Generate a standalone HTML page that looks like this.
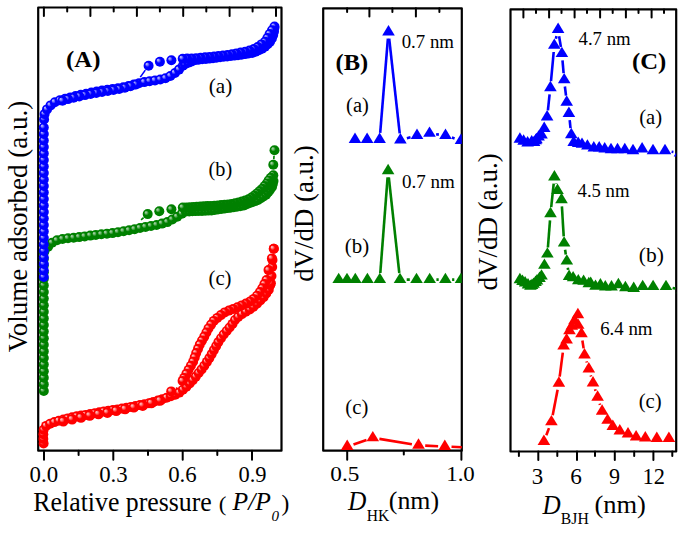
<!DOCTYPE html><html><head><meta charset="utf-8"><style>html,body{margin:0;padding:0;background:#fff;}svg{display:block;}</style></head><body><svg width="685" height="544" viewBox="0 0 685 544"><defs><radialGradient id="gB" cx="0.5" cy="0.5" r="0.5" fx="0.28" fy="0.3"><stop offset="0" stop-color="#a8a8ff"/><stop offset="0.12" stop-color="#a8a8ff"/><stop offset="0.48" stop-color="#0000ff"/><stop offset="1" stop-color="#0000ff"/></radialGradient><radialGradient id="gG" cx="0.5" cy="0.5" r="0.5" fx="0.28" fy="0.3"><stop offset="0" stop-color="#9ccc9c"/><stop offset="0.12" stop-color="#9ccc9c"/><stop offset="0.48" stop-color="#008000"/><stop offset="1" stop-color="#008000"/></radialGradient><radialGradient id="gR" cx="0.5" cy="0.5" r="0.5" fx="0.28" fy="0.3"><stop offset="0" stop-color="#ffb0b0"/><stop offset="0.12" stop-color="#ffb0b0"/><stop offset="0.48" stop-color="#ff0000"/><stop offset="1" stop-color="#ff0000"/></radialGradient><clipPath id="clipA"><rect x="38.2" y="7.5" width="243.3" height="443.2"/></clipPath><clipPath id="clipB"><rect x="323.2" y="8.3" width="138.60000000000002" height="442.4"/></clipPath><clipPath id="clipC"><rect x="510.5" y="9.4" width="165.70000000000005" height="442.1"/></clipPath></defs><rect width="685" height="544" fill="#fff"/><rect x="38.2" y="7.5" width="243.3" height="443.2" fill="none" stroke="#000" stroke-width="2.2" stroke-linejoin="round"/><line x1="43.9" y1="7.5" x2="43.9" y2="16.1" stroke="#000" stroke-width="2" stroke-linecap="round"/><line x1="90.4" y1="7.5" x2="90.4" y2="16.1" stroke="#000" stroke-width="2" stroke-linecap="round"/><line x1="136.9" y1="7.5" x2="136.9" y2="16.1" stroke="#000" stroke-width="2" stroke-linecap="round"/><line x1="183.2" y1="7.5" x2="183.2" y2="16.1" stroke="#000" stroke-width="2" stroke-linecap="round"/><line x1="229.6" y1="7.5" x2="229.6" y2="16.1" stroke="#000" stroke-width="2" stroke-linecap="round"/><line x1="276.0" y1="7.5" x2="276.0" y2="16.1" stroke="#000" stroke-width="2" stroke-linecap="round"/><line x1="67.2" y1="7.5" x2="67.2" y2="11.6" stroke="#000" stroke-width="2" stroke-linecap="round"/><line x1="113.7" y1="7.5" x2="113.7" y2="11.6" stroke="#000" stroke-width="2" stroke-linecap="round"/><line x1="159.9" y1="7.5" x2="159.9" y2="11.6" stroke="#000" stroke-width="2" stroke-linecap="round"/><line x1="206.3" y1="7.5" x2="206.3" y2="11.6" stroke="#000" stroke-width="2" stroke-linecap="round"/><line x1="252.6" y1="7.5" x2="252.6" y2="11.6" stroke="#000" stroke-width="2" stroke-linecap="round"/><line x1="44.0" y1="450.7" x2="44.0" y2="459.7" stroke="#000" stroke-width="2" stroke-linecap="round"/><line x1="113.3" y1="450.7" x2="113.3" y2="459.7" stroke="#000" stroke-width="2" stroke-linecap="round"/><line x1="182.7" y1="450.7" x2="182.7" y2="459.7" stroke="#000" stroke-width="2" stroke-linecap="round"/><line x1="252.0" y1="450.7" x2="252.0" y2="459.7" stroke="#000" stroke-width="2" stroke-linecap="round"/><line x1="78.6" y1="450.7" x2="78.6" y2="455.1" stroke="#000" stroke-width="2" stroke-linecap="round"/><line x1="148.0" y1="450.7" x2="148.0" y2="455.1" stroke="#000" stroke-width="2" stroke-linecap="round"/><line x1="217.3" y1="450.7" x2="217.3" y2="455.1" stroke="#000" stroke-width="2" stroke-linecap="round"/><g clip-path="url(#clipA)"><circle cx="43.8" cy="391.0" r="5.0" fill="url(#gG)"/><circle cx="43.8" cy="384.4" r="5.0" fill="url(#gG)"/><circle cx="43.8" cy="377.8" r="5.0" fill="url(#gG)"/><circle cx="43.8" cy="371.2" r="5.0" fill="url(#gG)"/><circle cx="43.8" cy="364.6" r="5.0" fill="url(#gG)"/><circle cx="43.8" cy="358.0" r="5.0" fill="url(#gG)"/><circle cx="43.8" cy="351.4" r="5.0" fill="url(#gG)"/><circle cx="43.8" cy="344.8" r="5.0" fill="url(#gG)"/><circle cx="43.8" cy="338.2" r="5.0" fill="url(#gG)"/><circle cx="43.8" cy="331.6" r="5.0" fill="url(#gG)"/><circle cx="43.8" cy="325.0" r="5.0" fill="url(#gG)"/><circle cx="43.8" cy="318.4" r="5.0" fill="url(#gG)"/><circle cx="43.8" cy="311.8" r="5.0" fill="url(#gG)"/><circle cx="43.8" cy="305.2" r="5.0" fill="url(#gG)"/><circle cx="43.8" cy="298.6" r="5.0" fill="url(#gG)"/><circle cx="43.8" cy="292.0" r="5.0" fill="url(#gG)"/><circle cx="43.8" cy="285.4" r="5.0" fill="url(#gG)"/><circle cx="43.8" cy="278.8" r="5.0" fill="url(#gG)"/><circle cx="43.8" cy="272.2" r="5.0" fill="url(#gG)"/><circle cx="43.8" cy="265.6" r="5.0" fill="url(#gG)"/><circle cx="43.8" cy="259.0" r="5.0" fill="url(#gG)"/><circle cx="43.8" cy="252.4" r="5.0" fill="url(#gG)"/><circle cx="44.5" cy="251.0" r="5.0" fill="url(#gG)"/><circle cx="48.1" cy="246.7" r="5.0" fill="url(#gG)"/><circle cx="52.1" cy="242.8" r="5.0" fill="url(#gG)"/><circle cx="57.0" cy="240.3" r="5.0" fill="url(#gG)"/><circle cx="62.5" cy="239.0" r="5.0" fill="url(#gG)"/><circle cx="68.0" cy="238.3" r="5.0" fill="url(#gG)"/><circle cx="73.6" cy="237.8" r="5.0" fill="url(#gG)"/><circle cx="79.2" cy="237.1" r="5.0" fill="url(#gG)"/><circle cx="84.7" cy="236.4" r="5.0" fill="url(#gG)"/><circle cx="90.3" cy="235.6" r="5.0" fill="url(#gG)"/><circle cx="95.8" cy="234.9" r="5.0" fill="url(#gG)"/><circle cx="101.4" cy="234.3" r="5.0" fill="url(#gG)"/><circle cx="106.9" cy="233.7" r="5.0" fill="url(#gG)"/><circle cx="112.5" cy="233.1" r="5.0" fill="url(#gG)"/><circle cx="118.0" cy="232.2" r="5.0" fill="url(#gG)"/><circle cx="123.6" cy="231.3" r="5.0" fill="url(#gG)"/><circle cx="129.1" cy="230.3" r="5.0" fill="url(#gG)"/><circle cx="134.6" cy="229.2" r="5.0" fill="url(#gG)"/><circle cx="140.0" cy="228.0" r="5.0" fill="url(#gG)"/><circle cx="145.5" cy="226.9" r="5.0" fill="url(#gG)"/><circle cx="151.0" cy="226.0" r="5.0" fill="url(#gG)"/><circle cx="156.6" cy="225.0" r="5.0" fill="url(#gG)"/><circle cx="162.0" cy="223.6" r="5.0" fill="url(#gG)"/><circle cx="167.4" cy="222.1" r="5.0" fill="url(#gG)"/><circle cx="172.3" cy="219.5" r="5.0" fill="url(#gG)"/><circle cx="177.2" cy="216.8" r="5.0" fill="url(#gG)"/><circle cx="181.9" cy="213.8" r="5.0" fill="url(#gG)"/><circle cx="186.0" cy="211.0" r="5.0" fill="url(#gG)"/><circle cx="186.0" cy="211.5" r="5.0" fill="url(#gG)"/><circle cx="189.2" cy="211.4" r="5.0" fill="url(#gG)"/><circle cx="192.4" cy="211.2" r="5.0" fill="url(#gG)"/><circle cx="195.6" cy="211.1" r="5.0" fill="url(#gG)"/><circle cx="198.8" cy="211.0" r="5.0" fill="url(#gG)"/><circle cx="202.0" cy="210.9" r="5.0" fill="url(#gG)"/><circle cx="205.2" cy="210.7" r="5.0" fill="url(#gG)"/><circle cx="208.4" cy="210.6" r="5.0" fill="url(#gG)"/><circle cx="211.6" cy="210.4" r="5.0" fill="url(#gG)"/><circle cx="214.7" cy="210.0" r="5.0" fill="url(#gG)"/><circle cx="217.9" cy="209.5" r="5.0" fill="url(#gG)"/><circle cx="221.1" cy="209.0" r="5.0" fill="url(#gG)"/><circle cx="224.2" cy="208.6" r="5.0" fill="url(#gG)"/><circle cx="227.4" cy="208.1" r="5.0" fill="url(#gG)"/><circle cx="230.6" cy="207.7" r="5.0" fill="url(#gG)"/><circle cx="233.7" cy="207.2" r="5.0" fill="url(#gG)"/><circle cx="236.9" cy="206.7" r="5.0" fill="url(#gG)"/><circle cx="240.1" cy="206.3" r="5.0" fill="url(#gG)"/><circle cx="243.2" cy="205.6" r="5.0" fill="url(#gG)"/><circle cx="246.2" cy="204.4" r="5.0" fill="url(#gG)"/><circle cx="249.2" cy="203.3" r="5.0" fill="url(#gG)"/><circle cx="252.2" cy="202.2" r="5.0" fill="url(#gG)"/><circle cx="255.2" cy="201.1" r="5.0" fill="url(#gG)"/><circle cx="258.1" cy="199.9" r="5.0" fill="url(#gG)"/><circle cx="260.8" cy="198.1" r="5.0" fill="url(#gG)"/><circle cx="263.5" cy="196.4" r="5.0" fill="url(#gG)"/><circle cx="266.1" cy="194.6" r="5.0" fill="url(#gG)"/><circle cx="268.2" cy="192.3" r="5.0" fill="url(#gG)"/><circle cx="270.1" cy="189.6" r="5.0" fill="url(#gG)"/><circle cx="272.0" cy="187.0" r="5.0" fill="url(#gG)"/><circle cx="272.8" cy="183.9" r="5.0" fill="url(#gG)"/><circle cx="273.5" cy="181.0" r="5.0" fill="url(#gG)"/><circle cx="273.3" cy="175.2" r="5.0" fill="url(#gG)"/><circle cx="270.8" cy="177.7" r="5.0" fill="url(#gG)"/><circle cx="268.7" cy="180.4" r="5.0" fill="url(#gG)"/><circle cx="266.9" cy="183.4" r="5.0" fill="url(#gG)"/><circle cx="264.6" cy="186.1" r="5.0" fill="url(#gG)"/><circle cx="262.3" cy="188.7" r="5.0" fill="url(#gG)"/><circle cx="259.7" cy="191.0" r="5.0" fill="url(#gG)"/><circle cx="257.1" cy="193.3" r="5.0" fill="url(#gG)"/><circle cx="254.4" cy="195.6" r="5.0" fill="url(#gG)"/><circle cx="251.5" cy="197.6" r="5.0" fill="url(#gG)"/><circle cx="248.5" cy="199.3" r="5.0" fill="url(#gG)"/><circle cx="245.2" cy="200.6" r="5.0" fill="url(#gG)"/><circle cx="241.9" cy="201.6" r="5.0" fill="url(#gG)"/><circle cx="238.5" cy="202.5" r="5.0" fill="url(#gG)"/><circle cx="235.1" cy="203.2" r="5.0" fill="url(#gG)"/><circle cx="231.7" cy="204.0" r="5.0" fill="url(#gG)"/><circle cx="228.2" cy="204.4" r="5.0" fill="url(#gG)"/><circle cx="224.7" cy="204.7" r="5.0" fill="url(#gG)"/><circle cx="221.2" cy="205.1" r="5.0" fill="url(#gG)"/><circle cx="217.8" cy="205.5" r="5.0" fill="url(#gG)"/><circle cx="214.3" cy="205.7" r="5.0" fill="url(#gG)"/><circle cx="210.8" cy="205.9" r="5.0" fill="url(#gG)"/><circle cx="207.3" cy="206.1" r="5.0" fill="url(#gG)"/><circle cx="203.8" cy="206.3" r="5.0" fill="url(#gG)"/><circle cx="200.3" cy="206.5" r="5.0" fill="url(#gG)"/><circle cx="196.8" cy="206.7" r="5.0" fill="url(#gG)"/><circle cx="193.3" cy="207.0" r="5.0" fill="url(#gG)"/><circle cx="189.8" cy="207.2" r="5.0" fill="url(#gG)"/><circle cx="186.3" cy="207.5" r="5.0" fill="url(#gG)"/><circle cx="182.8" cy="207.5" r="5.0" fill="url(#gG)"/><circle cx="274.5" cy="150.2" r="5.0" fill="url(#gG)"/><circle cx="273.3" cy="164.7" r="5.0" fill="url(#gG)"/><circle cx="171.4" cy="209.3" r="5.0" fill="url(#gG)"/><circle cx="159.3" cy="211.2" r="5.0" fill="url(#gG)"/><circle cx="147.7" cy="214.1" r="5.0" fill="url(#gG)"/><circle cx="43.8" cy="277.0" r="5.0" fill="url(#gB)"/><circle cx="43.8" cy="270.5" r="5.0" fill="url(#gB)"/><circle cx="43.8" cy="264.0" r="5.0" fill="url(#gB)"/><circle cx="43.8" cy="257.5" r="5.0" fill="url(#gB)"/><circle cx="43.8" cy="251.0" r="5.0" fill="url(#gB)"/><circle cx="43.8" cy="244.5" r="5.0" fill="url(#gB)"/><circle cx="43.8" cy="238.0" r="5.0" fill="url(#gB)"/><circle cx="43.8" cy="231.5" r="5.0" fill="url(#gB)"/><circle cx="43.8" cy="225.0" r="5.0" fill="url(#gB)"/><circle cx="43.8" cy="218.5" r="5.0" fill="url(#gB)"/><circle cx="43.8" cy="212.0" r="5.0" fill="url(#gB)"/><circle cx="43.8" cy="205.5" r="5.0" fill="url(#gB)"/><circle cx="43.8" cy="199.0" r="5.0" fill="url(#gB)"/><circle cx="43.8" cy="192.5" r="5.0" fill="url(#gB)"/><circle cx="43.8" cy="186.0" r="5.0" fill="url(#gB)"/><circle cx="43.8" cy="179.5" r="5.0" fill="url(#gB)"/><circle cx="43.8" cy="173.0" r="5.0" fill="url(#gB)"/><circle cx="43.8" cy="166.5" r="5.0" fill="url(#gB)"/><circle cx="43.8" cy="160.0" r="5.0" fill="url(#gB)"/><circle cx="43.8" cy="153.5" r="5.0" fill="url(#gB)"/><circle cx="43.8" cy="147.0" r="5.0" fill="url(#gB)"/><circle cx="43.8" cy="140.5" r="5.0" fill="url(#gB)"/><circle cx="43.8" cy="134.0" r="5.0" fill="url(#gB)"/><circle cx="43.8" cy="127.5" r="5.0" fill="url(#gB)"/><circle cx="44.1" cy="119.5" r="5.0" fill="url(#gB)"/><circle cx="44.6" cy="114.1" r="5.0" fill="url(#gB)"/><circle cx="47.0" cy="109.4" r="5.0" fill="url(#gB)"/><circle cx="50.6" cy="105.4" r="5.0" fill="url(#gB)"/><circle cx="54.9" cy="102.2" r="5.0" fill="url(#gB)"/><circle cx="59.9" cy="100.2" r="5.0" fill="url(#gB)"/><circle cx="65.1" cy="98.8" r="5.0" fill="url(#gB)"/><circle cx="70.3" cy="97.4" r="5.0" fill="url(#gB)"/><circle cx="75.6" cy="96.0" r="5.0" fill="url(#gB)"/><circle cx="80.8" cy="94.8" r="5.0" fill="url(#gB)"/><circle cx="86.1" cy="93.7" r="5.0" fill="url(#gB)"/><circle cx="91.4" cy="92.6" r="5.0" fill="url(#gB)"/><circle cx="96.7" cy="91.6" r="5.0" fill="url(#gB)"/><circle cx="102.0" cy="90.6" r="5.0" fill="url(#gB)"/><circle cx="107.3" cy="89.7" r="5.0" fill="url(#gB)"/><circle cx="112.7" cy="88.9" r="5.0" fill="url(#gB)"/><circle cx="118.0" cy="88.2" r="5.0" fill="url(#gB)"/><circle cx="123.3" cy="87.2" r="5.0" fill="url(#gB)"/><circle cx="128.6" cy="86.0" r="5.0" fill="url(#gB)"/><circle cx="133.8" cy="84.6" r="5.0" fill="url(#gB)"/><circle cx="139.0" cy="83.3" r="5.0" fill="url(#gB)"/><circle cx="144.3" cy="82.1" r="5.0" fill="url(#gB)"/><circle cx="149.6" cy="81.2" r="5.0" fill="url(#gB)"/><circle cx="155.0" cy="80.4" r="5.0" fill="url(#gB)"/><circle cx="160.3" cy="79.5" r="5.0" fill="url(#gB)"/><circle cx="165.5" cy="78.2" r="5.0" fill="url(#gB)"/><circle cx="170.4" cy="76.0" r="5.0" fill="url(#gB)"/><circle cx="175.0" cy="73.0" r="5.0" fill="url(#gB)"/><circle cx="179.0" cy="69.6" r="5.0" fill="url(#gB)"/><circle cx="182.9" cy="65.8" r="5.0" fill="url(#gB)"/><circle cx="185.0" cy="64.0" r="5.0" fill="url(#gB)"/><circle cx="185.0" cy="64.0" r="5.0" fill="url(#gB)"/><circle cx="188.4" cy="62.7" r="5.0" fill="url(#gB)"/><circle cx="191.7" cy="61.4" r="5.0" fill="url(#gB)"/><circle cx="195.1" cy="60.1" r="5.0" fill="url(#gB)"/><circle cx="198.6" cy="59.7" r="5.0" fill="url(#gB)"/><circle cx="202.2" cy="59.3" r="5.0" fill="url(#gB)"/><circle cx="205.8" cy="59.0" r="5.0" fill="url(#gB)"/><circle cx="209.4" cy="58.6" r="5.0" fill="url(#gB)"/><circle cx="213.0" cy="58.2" r="5.0" fill="url(#gB)"/><circle cx="216.5" cy="57.7" r="5.0" fill="url(#gB)"/><circle cx="220.1" cy="57.3" r="5.0" fill="url(#gB)"/><circle cx="223.7" cy="56.8" r="5.0" fill="url(#gB)"/><circle cx="227.2" cy="56.4" r="5.0" fill="url(#gB)"/><circle cx="230.8" cy="56.0" r="5.0" fill="url(#gB)"/><circle cx="234.4" cy="55.6" r="5.0" fill="url(#gB)"/><circle cx="238.0" cy="55.2" r="5.0" fill="url(#gB)"/><circle cx="241.5" cy="54.8" r="5.0" fill="url(#gB)"/><circle cx="245.1" cy="54.1" r="5.0" fill="url(#gB)"/><circle cx="248.6" cy="53.5" r="5.0" fill="url(#gB)"/><circle cx="252.2" cy="52.9" r="5.0" fill="url(#gB)"/><circle cx="255.6" cy="51.7" r="5.0" fill="url(#gB)"/><circle cx="258.9" cy="50.3" r="5.0" fill="url(#gB)"/><circle cx="262.1" cy="48.7" r="5.0" fill="url(#gB)"/><circle cx="265.0" cy="46.6" r="5.0" fill="url(#gB)"/><circle cx="267.7" cy="44.2" r="5.0" fill="url(#gB)"/><circle cx="270.1" cy="41.6" r="5.0" fill="url(#gB)"/><circle cx="271.9" cy="38.5" r="5.0" fill="url(#gB)"/><circle cx="273.2" cy="35.1" r="5.0" fill="url(#gB)"/><circle cx="274.0" cy="31.6" r="5.0" fill="url(#gB)"/><circle cx="274.4" cy="28.0" r="5.0" fill="url(#gB)"/><circle cx="274.5" cy="26.5" r="5.0" fill="url(#gB)"/><circle cx="272.0" cy="30.2" r="5.0" fill="url(#gB)"/><circle cx="269.6" cy="34.0" r="5.0" fill="url(#gB)"/><circle cx="267.4" cy="38.0" r="5.0" fill="url(#gB)"/><circle cx="265.0" cy="41.7" r="5.0" fill="url(#gB)"/><circle cx="261.4" cy="44.4" r="5.0" fill="url(#gB)"/><circle cx="257.7" cy="47.0" r="5.0" fill="url(#gB)"/><circle cx="253.8" cy="49.1" r="5.0" fill="url(#gB)"/><circle cx="249.5" cy="50.6" r="5.0" fill="url(#gB)"/><circle cx="245.2" cy="51.7" r="5.0" fill="url(#gB)"/><circle cx="240.7" cy="52.5" r="5.0" fill="url(#gB)"/><circle cx="236.3" cy="53.4" r="5.0" fill="url(#gB)"/><circle cx="231.9" cy="54.2" r="5.0" fill="url(#gB)"/><circle cx="227.5" cy="55.0" r="5.0" fill="url(#gB)"/><circle cx="223.0" cy="55.6" r="5.0" fill="url(#gB)"/><circle cx="218.5" cy="56.0" r="5.0" fill="url(#gB)"/><circle cx="214.1" cy="56.5" r="5.0" fill="url(#gB)"/><circle cx="209.6" cy="56.9" r="5.0" fill="url(#gB)"/><circle cx="205.1" cy="57.3" r="5.0" fill="url(#gB)"/><circle cx="200.6" cy="57.8" r="5.0" fill="url(#gB)"/><circle cx="196.1" cy="58.2" r="5.0" fill="url(#gB)"/><circle cx="191.6" cy="58.4" r="5.0" fill="url(#gB)"/><circle cx="187.1" cy="58.6" r="5.0" fill="url(#gB)"/><circle cx="182.7" cy="58.8" r="5.0" fill="url(#gB)"/><circle cx="171.4" cy="60.2" r="5.0" fill="url(#gB)"/><circle cx="159.9" cy="61.7" r="5.0" fill="url(#gB)"/><circle cx="148.6" cy="65.7" r="5.0" fill="url(#gB)"/><circle cx="136.0" cy="84.5" r="5.0" fill="url(#gB)"/><circle cx="130.5" cy="86.2" r="5.0" fill="url(#gB)"/><circle cx="124.9" cy="87.7" r="5.0" fill="url(#gB)"/><circle cx="119.2" cy="89.0" r="5.0" fill="url(#gB)"/><circle cx="113.5" cy="90.0" r="5.0" fill="url(#gB)"/><circle cx="107.8" cy="91.0" r="5.0" fill="url(#gB)"/><circle cx="102.0" cy="91.9" r="5.0" fill="url(#gB)"/><circle cx="96.3" cy="92.9" r="5.0" fill="url(#gB)"/><circle cx="90.6" cy="93.9" r="5.0" fill="url(#gB)"/><circle cx="85.0" cy="95.1" r="5.0" fill="url(#gB)"/><circle cx="79.3" cy="96.4" r="5.0" fill="url(#gB)"/><circle cx="73.6" cy="97.7" r="5.0" fill="url(#gB)"/><circle cx="68.0" cy="99.1" r="5.0" fill="url(#gB)"/><circle cx="62.5" cy="100.8" r="5.0" fill="url(#gB)"/><circle cx="43.6" cy="443.5" r="5.0" fill="url(#gR)"/><circle cx="43.3" cy="438.9" r="5.0" fill="url(#gR)"/><circle cx="43.3" cy="434.3" r="5.0" fill="url(#gR)"/><circle cx="43.6" cy="429.7" r="5.0" fill="url(#gR)"/><circle cx="46.1" cy="425.9" r="5.0" fill="url(#gR)"/><circle cx="50.1" cy="423.7" r="5.0" fill="url(#gR)"/><circle cx="54.4" cy="422.1" r="5.0" fill="url(#gR)"/><circle cx="58.8" cy="420.7" r="5.0" fill="url(#gR)"/><circle cx="63.3" cy="419.6" r="5.0" fill="url(#gR)"/><circle cx="67.7" cy="418.4" r="5.0" fill="url(#gR)"/><circle cx="72.2" cy="417.3" r="5.0" fill="url(#gR)"/><circle cx="76.7" cy="416.3" r="5.0" fill="url(#gR)"/><circle cx="81.2" cy="415.6" r="5.0" fill="url(#gR)"/><circle cx="85.7" cy="414.9" r="5.0" fill="url(#gR)"/><circle cx="90.2" cy="413.9" r="5.0" fill="url(#gR)"/><circle cx="94.8" cy="413.3" r="5.0" fill="url(#gR)"/><circle cx="99.3" cy="412.3" r="5.0" fill="url(#gR)"/><circle cx="103.8" cy="411.4" r="5.0" fill="url(#gR)"/><circle cx="108.3" cy="410.7" r="5.0" fill="url(#gR)"/><circle cx="112.9" cy="410.1" r="5.0" fill="url(#gR)"/><circle cx="117.4" cy="409.4" r="5.0" fill="url(#gR)"/><circle cx="122.0" cy="408.6" r="5.0" fill="url(#gR)"/><circle cx="126.5" cy="407.7" r="5.0" fill="url(#gR)"/><circle cx="131.0" cy="406.9" r="5.0" fill="url(#gR)"/><circle cx="135.5" cy="406.0" r="5.0" fill="url(#gR)"/><circle cx="140.0" cy="405.1" r="5.0" fill="url(#gR)"/><circle cx="144.5" cy="404.2" r="5.0" fill="url(#gR)"/><circle cx="149.0" cy="403.2" r="5.0" fill="url(#gR)"/><circle cx="153.5" cy="401.9" r="5.0" fill="url(#gR)"/><circle cx="157.9" cy="400.6" r="5.0" fill="url(#gR)"/><circle cx="162.2" cy="399.2" r="5.0" fill="url(#gR)"/><circle cx="166.6" cy="397.7" r="5.0" fill="url(#gR)"/><circle cx="170.9" cy="396.2" r="5.0" fill="url(#gR)"/><circle cx="175.3" cy="394.7" r="5.0" fill="url(#gR)"/><circle cx="179.3" cy="392.6" r="5.0" fill="url(#gR)"/><circle cx="182.9" cy="389.7" r="5.0" fill="url(#gR)"/><circle cx="186.4" cy="386.7" r="5.0" fill="url(#gR)"/><circle cx="189.7" cy="383.4" r="5.0" fill="url(#gR)"/><circle cx="192.8" cy="380.1" r="5.0" fill="url(#gR)"/><circle cx="195.8" cy="376.6" r="5.0" fill="url(#gR)"/><circle cx="198.7" cy="373.0" r="5.0" fill="url(#gR)"/><circle cx="201.6" cy="369.4" r="5.0" fill="url(#gR)"/><circle cx="204.3" cy="365.7" r="5.0" fill="url(#gR)"/><circle cx="206.9" cy="361.9" r="5.0" fill="url(#gR)"/><circle cx="209.4" cy="358.1" r="5.0" fill="url(#gR)"/><circle cx="211.7" cy="354.1" r="5.0" fill="url(#gR)"/><circle cx="213.9" cy="350.1" r="5.0" fill="url(#gR)"/><circle cx="216.2" cy="346.1" r="5.0" fill="url(#gR)"/><circle cx="218.4" cy="342.1" r="5.0" fill="url(#gR)"/><circle cx="221.0" cy="338.2" r="5.0" fill="url(#gR)"/><circle cx="223.7" cy="334.5" r="5.0" fill="url(#gR)"/><circle cx="226.7" cy="331.0" r="5.0" fill="url(#gR)"/><circle cx="229.6" cy="327.5" r="5.0" fill="url(#gR)"/><circle cx="232.5" cy="323.9" r="5.0" fill="url(#gR)"/><circle cx="235.0" cy="320.0" r="5.0" fill="url(#gR)"/><circle cx="238.2" cy="316.9" r="5.0" fill="url(#gR)"/><circle cx="241.9" cy="314.1" r="5.0" fill="url(#gR)"/><circle cx="245.8" cy="311.7" r="5.0" fill="url(#gR)"/><circle cx="249.8" cy="309.4" r="5.0" fill="url(#gR)"/><circle cx="253.5" cy="306.7" r="5.0" fill="url(#gR)"/><circle cx="257.0" cy="303.7" r="5.0" fill="url(#gR)"/><circle cx="260.3" cy="300.5" r="5.0" fill="url(#gR)"/><circle cx="263.6" cy="297.2" r="5.0" fill="url(#gR)"/><circle cx="266.3" cy="293.5" r="5.0" fill="url(#gR)"/><circle cx="268.8" cy="289.7" r="5.0" fill="url(#gR)"/><circle cx="270.2" cy="285.3" r="5.0" fill="url(#gR)"/><circle cx="270.9" cy="283.3" r="5.0" fill="url(#gR)"/><circle cx="271.5" cy="276.0" r="5.0" fill="url(#gR)"/><circle cx="272.2" cy="267.0" r="5.0" fill="url(#gR)"/><circle cx="272.5" cy="260.0" r="5.0" fill="url(#gR)"/><circle cx="273.8" cy="248.8" r="5.0" fill="url(#gR)"/><circle cx="273.8" cy="248.8" r="5.0" fill="url(#gR)"/><circle cx="271.9" cy="258.4" r="5.0" fill="url(#gR)"/><circle cx="268.5" cy="270.1" r="5.0" fill="url(#gR)"/><circle cx="266.5" cy="280.0" r="5.0" fill="url(#gR)"/><circle cx="264.4" cy="284.1" r="5.0" fill="url(#gR)"/><circle cx="262.3" cy="288.2" r="5.0" fill="url(#gR)"/><circle cx="259.9" cy="292.1" r="5.0" fill="url(#gR)"/><circle cx="257.0" cy="295.7" r="5.0" fill="url(#gR)"/><circle cx="253.7" cy="298.9" r="5.0" fill="url(#gR)"/><circle cx="250.0" cy="301.5" r="5.0" fill="url(#gR)"/><circle cx="245.9" cy="303.6" r="5.0" fill="url(#gR)"/><circle cx="241.7" cy="305.4" r="5.0" fill="url(#gR)"/><circle cx="237.4" cy="307.2" r="5.0" fill="url(#gR)"/><circle cx="233.2" cy="308.9" r="5.0" fill="url(#gR)"/><circle cx="228.9" cy="310.6" r="5.0" fill="url(#gR)"/><circle cx="224.7" cy="312.4" r="5.0" fill="url(#gR)"/><circle cx="220.9" cy="315.1" r="5.0" fill="url(#gR)"/><circle cx="217.3" cy="317.9" r="5.0" fill="url(#gR)"/><circle cx="213.8" cy="320.9" r="5.0" fill="url(#gR)"/><circle cx="211.1" cy="324.6" r="5.0" fill="url(#gR)"/><circle cx="208.5" cy="328.4" r="5.0" fill="url(#gR)"/><circle cx="206.4" cy="332.5" r="5.0" fill="url(#gR)"/><circle cx="204.3" cy="336.6" r="5.0" fill="url(#gR)"/><circle cx="202.0" cy="340.6" r="5.0" fill="url(#gR)"/><circle cx="199.8" cy="344.6" r="5.0" fill="url(#gR)"/><circle cx="198.0" cy="348.9" r="5.0" fill="url(#gR)"/><circle cx="196.2" cy="353.1" r="5.0" fill="url(#gR)"/><circle cx="194.7" cy="357.4" r="5.0" fill="url(#gR)"/><circle cx="193.1" cy="361.7" r="5.0" fill="url(#gR)"/><circle cx="190.9" cy="365.8" r="5.0" fill="url(#gR)"/><circle cx="188.6" cy="369.8" r="5.0" fill="url(#gR)"/><circle cx="186.4" cy="373.8" r="5.0" fill="url(#gR)"/><circle cx="184.2" cy="377.9" r="5.0" fill="url(#gR)"/><circle cx="182.6" cy="380.9" r="5.0" fill="url(#gR)"/><circle cx="171.2" cy="391.4" r="5.0" fill="url(#gR)"/><circle cx="160.0" cy="400.5" r="5.3" fill="url(#gR)"/><circle cx="151.4" cy="403.0" r="5.3" fill="url(#gR)"/><circle cx="142.7" cy="405.6" r="5.3" fill="url(#gR)"/><circle cx="133.9" cy="407.3" r="5.3" fill="url(#gR)"/><circle cx="125.1" cy="409.0" r="5.3" fill="url(#gR)"/><circle cx="116.2" cy="410.8" r="5.3" fill="url(#gR)"/><circle cx="107.4" cy="412.6" r="5.3" fill="url(#gR)"/><circle cx="98.5" cy="414.0" r="5.3" fill="url(#gR)"/><circle cx="89.7" cy="415.5" r="5.3" fill="url(#gR)"/><circle cx="80.9" cy="417.4" r="5.3" fill="url(#gR)"/><circle cx="72.1" cy="419.3" r="5.3" fill="url(#gR)"/><circle cx="63.3" cy="421.2" r="5.3" fill="url(#gR)"/><line x1="145.3" y1="70.1" x2="140.3" y2="77.1" stroke="#0000ff" stroke-width="1.6"/><line x1="143.6" y1="217.7" x2="141.1" y2="219.9" stroke="#008000" stroke-width="1.6"/><line x1="274.0" y1="155.7" x2="273.8" y2="159.2" stroke="#008000" stroke-width="1.6"/><line x1="175.9" y1="388.6" x2="177.3" y2="387.8" stroke="#ff0000" stroke-width="1.6"/></g><rect x="323.2" y="8.3" width="138.60000000000002" height="442.4" fill="none" stroke="#000" stroke-width="2.2" stroke-linejoin="round"/><line x1="369.4" y1="8.3" x2="369.4" y2="16.6" stroke="#000" stroke-width="2" stroke-linecap="round"/><line x1="415.9" y1="8.3" x2="415.9" y2="16.6" stroke="#000" stroke-width="2" stroke-linecap="round"/><line x1="347.1" y1="8.3" x2="347.1" y2="12.1" stroke="#000" stroke-width="2" stroke-linecap="round"/><line x1="392.4" y1="8.3" x2="392.4" y2="12.1" stroke="#000" stroke-width="2" stroke-linecap="round"/><line x1="439.4" y1="8.3" x2="439.4" y2="12.1" stroke="#000" stroke-width="2" stroke-linecap="round"/><line x1="347.2" y1="450.7" x2="347.2" y2="459.8" stroke="#000" stroke-width="2" stroke-linecap="round"/><line x1="461.4" y1="450.7" x2="461.4" y2="459.8" stroke="#000" stroke-width="2" stroke-linecap="round"/><line x1="403.8" y1="450.7" x2="403.8" y2="454.6" stroke="#000" stroke-width="2" stroke-linecap="round"/><g clip-path="url(#clipB)"><line x1="380.2" y1="132.8" x2="387.9" y2="38.6" stroke="#0000ff" stroke-width="2.6"/><line x1="389.2" y1="38.6" x2="399.7" y2="133.3" stroke="#0000ff" stroke-width="2.6"/><line x1="406.9" y1="138.2" x2="410.5" y2="137.3" stroke="#0000ff" stroke-width="2.6"/><line x1="436.1" y1="134.2" x2="438.9" y2="134.6" stroke="#0000ff" stroke-width="2.6"/><line x1="451.9" y1="137.6" x2="454.6" y2="138.5" stroke="#0000ff" stroke-width="2.6"/><line x1="467.7" y1="140.2" x2="468.3" y2="140.2" stroke="#0000ff" stroke-width="2.6"/><path d="M355.0 132.5L361.3 142.9L348.7 142.9Z" fill="#0000ff"/><path d="M367.1 132.5L373.4 142.9L360.8 142.9Z" fill="#0000ff"/><path d="M379.6 132.5L385.9 142.9L373.3 142.9Z" fill="#0000ff"/><path d="M388.5 25.0L394.8 35.4L382.2 35.4Z" fill="#0000ff"/><path d="M400.4 133.0L406.7 143.4L394.1 143.4Z" fill="#0000ff"/><path d="M417.0 128.6L423.3 139.0L410.7 139.0Z" fill="#0000ff"/><path d="M429.5 126.4L435.8 136.8L423.2 136.8Z" fill="#0000ff"/><path d="M445.5 128.6L451.8 139.0L439.2 139.0Z" fill="#0000ff"/><path d="M461.0 133.6L467.3 144.0L454.7 144.0Z" fill="#0000ff"/><path d="M475.0 133.0L481.3 143.4L468.7 143.4Z" fill="#0000ff"/></g><g clip-path="url(#clipB)"><line x1="380.3" y1="273.0" x2="387.6" y2="177.4" stroke="#008000" stroke-width="2.6"/><line x1="388.8" y1="177.4" x2="399.3" y2="273.0" stroke="#008000" stroke-width="2.6"/><line x1="406.7" y1="279.6" x2="409.8" y2="279.6" stroke="#008000" stroke-width="2.6"/><line x1="436.4" y1="279.6" x2="438.7" y2="279.6" stroke="#008000" stroke-width="2.6"/><line x1="452.1" y1="279.6" x2="454.3" y2="279.6" stroke="#008000" stroke-width="2.6"/><line x1="467.7" y1="279.6" x2="468.3" y2="279.6" stroke="#008000" stroke-width="2.6"/><path d="M338.7 272.7L345.0 283.1L332.4 283.1Z" fill="#008000"/><path d="M347.0 272.7L353.3 283.1L340.7 283.1Z" fill="#008000"/><path d="M355.3 272.7L361.6 283.1L349.0 283.1Z" fill="#008000"/><path d="M367.4 272.7L373.7 283.1L361.1 283.1Z" fill="#008000"/><path d="M379.8 272.7L386.1 283.1L373.5 283.1Z" fill="#008000"/><path d="M388.1 163.8L394.4 174.2L381.8 174.2Z" fill="#008000"/><path d="M400.0 272.7L406.3 283.1L393.7 283.1Z" fill="#008000"/><path d="M416.5 272.7L422.8 283.1L410.2 283.1Z" fill="#008000"/><path d="M429.7 272.7L436.0 283.1L423.4 283.1Z" fill="#008000"/><path d="M445.4 272.7L451.7 283.1L439.1 283.1Z" fill="#008000"/><path d="M461.0 272.7L467.3 283.1L454.7 283.1Z" fill="#008000"/><path d="M475.0 272.7L481.3 283.1L468.7 283.1Z" fill="#008000"/></g><g clip-path="url(#clipB)"><line x1="353.5" y1="444.4" x2="366.5" y2="440.0" stroke="#ff0000" stroke-width="2.6"/><line x1="379.4" y1="438.9" x2="411.9" y2="444.2" stroke="#ff0000" stroke-width="2.6"/><line x1="425.2" y1="445.6" x2="438.1" y2="446.2" stroke="#ff0000" stroke-width="2.6"/><line x1="451.5" y1="446.8" x2="468.3" y2="447.6" stroke="#ff0000" stroke-width="2.6"/><path d="M347.2 439.6L353.5 450.0L340.9 450.0Z" fill="#ff0000"/><path d="M372.8 430.9L379.1 441.3L366.5 441.3Z" fill="#ff0000"/><path d="M418.5 438.3L424.8 448.7L412.2 448.7Z" fill="#ff0000"/><path d="M444.8 439.6L451.1 450.0L438.5 450.0Z" fill="#ff0000"/><path d="M475.0 441.0L481.3 451.4L468.7 451.4Z" fill="#ff0000"/></g><rect x="510.5" y="9.4" width="165.70000000000005" height="442.1" fill="none" stroke="#000" stroke-width="2.2" stroke-linejoin="round"/><line x1="523.4" y1="9.4" x2="523.4" y2="17.6" stroke="#000" stroke-width="2" stroke-linecap="round"/><line x1="549.1" y1="9.4" x2="549.1" y2="17.6" stroke="#000" stroke-width="2" stroke-linecap="round"/><line x1="574.6" y1="9.4" x2="574.6" y2="17.6" stroke="#000" stroke-width="2" stroke-linecap="round"/><line x1="600.1" y1="9.4" x2="600.1" y2="17.6" stroke="#000" stroke-width="2" stroke-linecap="round"/><line x1="625.9" y1="9.4" x2="625.9" y2="17.6" stroke="#000" stroke-width="2" stroke-linecap="round"/><line x1="651.6" y1="9.4" x2="651.6" y2="17.6" stroke="#000" stroke-width="2" stroke-linecap="round"/><line x1="536.0" y1="9.4" x2="536.0" y2="13.1" stroke="#000" stroke-width="2" stroke-linecap="round"/><line x1="561.5" y1="9.4" x2="561.5" y2="13.1" stroke="#000" stroke-width="2" stroke-linecap="round"/><line x1="587.0" y1="9.4" x2="587.0" y2="13.1" stroke="#000" stroke-width="2" stroke-linecap="round"/><line x1="612.7" y1="9.4" x2="612.7" y2="13.1" stroke="#000" stroke-width="2" stroke-linecap="round"/><line x1="638.5" y1="9.4" x2="638.5" y2="13.1" stroke="#000" stroke-width="2" stroke-linecap="round"/><line x1="664.0" y1="9.4" x2="664.0" y2="13.1" stroke="#000" stroke-width="2" stroke-linecap="round"/><line x1="538.3" y1="451.5" x2="538.3" y2="460.1" stroke="#000" stroke-width="2" stroke-linecap="round"/><line x1="577.0" y1="451.5" x2="577.0" y2="460.1" stroke="#000" stroke-width="2" stroke-linecap="round"/><line x1="614.8" y1="451.5" x2="614.8" y2="460.1" stroke="#000" stroke-width="2" stroke-linecap="round"/><line x1="653.4" y1="451.5" x2="653.4" y2="460.1" stroke="#000" stroke-width="2" stroke-linecap="round"/><line x1="518.9" y1="451.5" x2="518.9" y2="456.1" stroke="#000" stroke-width="2" stroke-linecap="round"/><line x1="557.3" y1="451.5" x2="557.3" y2="456.1" stroke="#000" stroke-width="2" stroke-linecap="round"/><line x1="595.0" y1="451.5" x2="595.0" y2="456.1" stroke="#000" stroke-width="2" stroke-linecap="round"/><line x1="634.2" y1="451.5" x2="634.2" y2="456.1" stroke="#000" stroke-width="2" stroke-linecap="round"/><line x1="672.3" y1="451.5" x2="672.3" y2="456.1" stroke="#000" stroke-width="2" stroke-linecap="round"/><g clip-path="url(#clipC)"><line x1="547.9" y1="110.3" x2="549.6" y2="94.4" stroke="#0000ff" stroke-width="2.6"/><line x1="551.0" y1="81.1" x2="553.7" y2="52.0" stroke="#0000ff" stroke-width="2.6"/><line x1="555.9" y1="38.8" x2="556.5" y2="36.1" stroke="#0000ff" stroke-width="2.6"/><line x1="559.1" y1="36.2" x2="560.9" y2="47.0" stroke="#0000ff" stroke-width="2.6"/><line x1="562.5" y1="60.3" x2="563.6" y2="73.2" stroke="#0000ff" stroke-width="2.6"/><line x1="564.9" y1="86.5" x2="566.0" y2="95.6" stroke="#0000ff" stroke-width="2.6"/><line x1="569.7" y1="120.1" x2="570.5" y2="128.1" stroke="#0000ff" stroke-width="2.6"/><line x1="671.6" y1="151.7" x2="673.4" y2="152.0" stroke="#0000ff" stroke-width="2.6"/><path d="M519.9 132.3L526.2 142.7L513.6 142.7Z" fill="#0000ff"/><path d="M523.6 134.3L529.9 144.7L517.3 144.7Z" fill="#0000ff"/><path d="M527.6 136.0L533.9 146.4L521.3 146.4Z" fill="#0000ff"/><path d="M531.7 134.9L538.0 145.3L525.4 145.3Z" fill="#0000ff"/><path d="M534.1 135.5L540.4 145.9L527.8 145.9Z" fill="#0000ff"/><path d="M535.7 133.8L542.0 144.2L529.4 144.2Z" fill="#0000ff"/><path d="M536.4 132.8L542.7 143.2L530.1 143.2Z" fill="#0000ff"/><path d="M538.6 130.2L544.9 140.6L532.3 140.6Z" fill="#0000ff"/><path d="M541.5 128.0L547.8 138.4L535.2 138.4Z" fill="#0000ff"/><path d="M544.2 121.5L550.5 131.9L537.9 131.9Z" fill="#0000ff"/><path d="M547.1 110.0L553.4 120.4L540.8 120.4Z" fill="#0000ff"/><path d="M550.4 80.8L556.7 91.2L544.1 91.2Z" fill="#0000ff"/><path d="M554.3 38.4L560.6 48.8L548.0 48.8Z" fill="#0000ff"/><path d="M558.1 22.6L564.4 33.0L551.8 33.0Z" fill="#0000ff"/><path d="M561.9 46.7L568.2 57.1L555.6 57.1Z" fill="#0000ff"/><path d="M564.2 72.9L570.5 83.3L557.9 83.3Z" fill="#0000ff"/><path d="M566.7 95.3L573.0 105.7L560.4 105.7Z" fill="#0000ff"/><path d="M568.9 106.5L575.2 116.9L562.6 116.9Z" fill="#0000ff"/><path d="M571.3 127.8L577.6 138.2L565.0 138.2Z" fill="#0000ff"/><path d="M573.7 135.5L580.0 145.9L567.4 145.9Z" fill="#0000ff"/><path d="M578.2 136.5L584.5 146.9L571.9 146.9Z" fill="#0000ff"/><path d="M582.0 137.4L588.3 147.8L575.7 147.8Z" fill="#0000ff"/><path d="M587.4 139.2L593.7 149.6L581.1 149.6Z" fill="#0000ff"/><path d="M593.8 141.0L600.1 151.4L587.5 151.4Z" fill="#0000ff"/><path d="M599.2 141.0L605.5 151.4L592.9 151.4Z" fill="#0000ff"/><path d="M604.7 142.0L611.0 152.4L598.4 152.4Z" fill="#0000ff"/><path d="M611.0 142.8L617.3 153.2L604.7 153.2Z" fill="#0000ff"/><path d="M617.5 142.8L623.8 153.2L611.2 153.2Z" fill="#0000ff"/><path d="M624.8 142.8L631.1 153.2L618.5 153.2Z" fill="#0000ff"/><path d="M633.0 143.8L639.3 154.2L626.7 154.2Z" fill="#0000ff"/><path d="M642.1 142.0L648.4 152.4L635.8 152.4Z" fill="#0000ff"/><path d="M653.0 143.8L659.3 154.2L646.7 154.2Z" fill="#0000ff"/><path d="M665.0 143.8L671.3 154.2L658.7 154.2Z" fill="#0000ff"/><path d="M680.0 146.0L686.3 156.4L673.7 156.4Z" fill="#0000ff"/></g><g clip-path="url(#clipC)"><line x1="547.9" y1="247.5" x2="550.0" y2="220.4" stroke="#008000" stroke-width="2.6"/><line x1="551.2" y1="207.1" x2="553.7" y2="183.6" stroke="#008000" stroke-width="2.6"/><line x1="555.9" y1="183.5" x2="556.0" y2="184.0" stroke="#008000" stroke-width="2.6"/><line x1="561.9" y1="206.4" x2="563.7" y2="236.4" stroke="#008000" stroke-width="2.6"/><line x1="565.1" y1="249.8" x2="565.8" y2="254.5" stroke="#008000" stroke-width="2.6"/><line x1="567.8" y1="267.8" x2="568.1" y2="269.9" stroke="#008000" stroke-width="2.6"/><line x1="672.6" y1="288.0" x2="675.4" y2="288.6" stroke="#008000" stroke-width="2.6"/><path d="M519.9 272.8L526.2 283.2L513.6 283.2Z" fill="#008000"/><path d="M522.5 274.5L528.8 284.9L516.2 284.9Z" fill="#008000"/><path d="M525.1 276.1L531.4 286.5L518.8 286.5Z" fill="#008000"/><path d="M528.0 278.0L534.3 288.4L521.7 288.4Z" fill="#008000"/><path d="M530.4 279.4L536.7 289.8L524.1 289.8Z" fill="#008000"/><path d="M532.0 278.5L538.3 288.9L525.7 288.9Z" fill="#008000"/><path d="M533.6 277.4L539.9 287.8L527.3 287.8Z" fill="#008000"/><path d="M535.5 275.5L541.8 285.9L529.2 285.9Z" fill="#008000"/><path d="M537.0 274.0L543.3 284.4L530.7 284.4Z" fill="#008000"/><path d="M539.5 271.5L545.8 281.9L533.2 281.9Z" fill="#008000"/><path d="M541.5 269.2L547.8 279.6L535.2 279.6Z" fill="#008000"/><path d="M544.4 258.4L550.7 268.8L538.1 268.8Z" fill="#008000"/><path d="M547.4 247.2L553.7 257.6L541.1 257.6Z" fill="#008000"/><path d="M550.5 206.8L556.8 217.2L544.2 217.2Z" fill="#008000"/><path d="M554.4 170.0L560.7 180.4L548.1 180.4Z" fill="#008000"/><path d="M557.5 183.6L563.8 194.0L551.2 194.0Z" fill="#008000"/><path d="M561.5 192.8L567.8 203.2L555.2 203.2Z" fill="#008000"/><path d="M564.1 236.2L570.4 246.6L557.8 246.6Z" fill="#008000"/><path d="M566.8 254.2L573.1 264.6L560.5 264.6Z" fill="#008000"/><path d="M569.1 269.6L575.4 280.0L562.8 280.0Z" fill="#008000"/><path d="M573.1 270.9L579.4 281.3L566.8 281.3Z" fill="#008000"/><path d="M578.3 273.9L584.6 284.3L572.0 284.3Z" fill="#008000"/><path d="M583.6 274.4L589.9 284.8L577.3 284.8Z" fill="#008000"/><path d="M588.8 276.8L595.1 287.2L582.5 287.2Z" fill="#008000"/><path d="M590.7 276.6L597.0 287.0L584.4 287.0Z" fill="#008000"/><path d="M595.5 279.4L601.8 289.8L589.2 289.8Z" fill="#008000"/><path d="M600.4 278.0L606.7 288.4L594.1 288.4Z" fill="#008000"/><path d="M605.3 280.1L611.6 290.5L599.0 290.5Z" fill="#008000"/><path d="M611.5 280.1L617.8 290.5L605.2 290.5Z" fill="#008000"/><path d="M618.4 277.8L624.7 288.2L612.1 288.2Z" fill="#008000"/><path d="M625.4 280.8L631.7 291.2L619.1 291.2Z" fill="#008000"/><path d="M633.7 281.5L640.0 291.9L627.4 291.9Z" fill="#008000"/><path d="M642.7 279.7L649.0 290.1L636.4 290.1Z" fill="#008000"/><path d="M653.1 279.7L659.4 290.1L646.8 290.1Z" fill="#008000"/><path d="M666.0 279.7L672.3 290.1L659.7 290.1Z" fill="#008000"/><path d="M682.0 283.0L688.3 293.4L675.7 293.4Z" fill="#008000"/></g><g clip-path="url(#clipC)"><line x1="546.3" y1="435.3" x2="549.0" y2="428.1" stroke="#ff0000" stroke-width="2.6"/><line x1="552.7" y1="415.3" x2="557.6" y2="389.8" stroke="#ff0000" stroke-width="2.6"/><line x1="559.7" y1="376.6" x2="562.8" y2="352.6" stroke="#ff0000" stroke-width="2.6"/><line x1="582.4" y1="340.5" x2="583.6" y2="348.4" stroke="#ff0000" stroke-width="2.6"/><line x1="586.5" y1="361.4" x2="586.8" y2="362.5" stroke="#ff0000" stroke-width="2.6"/><line x1="590.7" y1="375.4" x2="591.1" y2="376.5" stroke="#ff0000" stroke-width="2.6"/><line x1="595.1" y1="389.3" x2="595.5" y2="390.9" stroke="#ff0000" stroke-width="2.6"/><line x1="599.7" y1="403.6" x2="600.0" y2="404.9" stroke="#ff0000" stroke-width="2.6"/><path d="M543.9 434.6L550.2 445.0L537.6 445.0Z" fill="#ff0000"/><path d="M551.4 414.9L557.7 425.3L545.1 425.3Z" fill="#ff0000"/><path d="M558.9 376.3L565.2 386.7L552.6 386.7Z" fill="#ff0000"/><path d="M563.6 339.0L569.9 349.4L557.3 349.4Z" fill="#ff0000"/><path d="M566.6 333.1L572.9 343.5L560.3 343.5Z" fill="#ff0000"/><path d="M569.5 323.8L575.8 334.2L563.2 334.2Z" fill="#ff0000"/><path d="M571.8 319.3L578.1 329.7L565.5 329.7Z" fill="#ff0000"/><path d="M574.5 313.8L580.8 324.2L568.2 324.2Z" fill="#ff0000"/><path d="M577.9 307.8L584.2 318.2L571.6 318.2Z" fill="#ff0000"/><path d="M578.2 318.4L584.5 328.8L571.9 328.8Z" fill="#ff0000"/><path d="M581.5 326.9L587.8 337.3L575.2 337.3Z" fill="#ff0000"/><path d="M584.5 348.1L590.8 358.5L578.2 358.5Z" fill="#ff0000"/><path d="M588.8 362.0L595.1 372.4L582.5 372.4Z" fill="#ff0000"/><path d="M593.0 376.0L599.3 386.4L586.7 386.4Z" fill="#ff0000"/><path d="M597.6 390.3L603.9 400.7L591.3 400.7Z" fill="#ff0000"/><path d="M602.1 404.3L608.4 414.7L595.8 414.7Z" fill="#ff0000"/><path d="M607.6 413.4L613.9 423.8L601.3 423.8Z" fill="#ff0000"/><path d="M612.8 419.5L619.1 429.9L606.5 429.9Z" fill="#ff0000"/><path d="M619.8 424.0L626.1 434.4L613.5 434.4Z" fill="#ff0000"/><path d="M628.0 427.1L634.3 437.5L621.7 437.5Z" fill="#ff0000"/><path d="M636.1 430.1L642.4 440.5L629.8 440.5Z" fill="#ff0000"/><path d="M645.3 431.0L651.6 441.4L639.0 441.4Z" fill="#ff0000"/><path d="M656.8 431.6L663.1 442.0L650.5 442.0Z" fill="#ff0000"/><path d="M668.9 431.6L675.2 442.0L662.6 442.0Z" fill="#ff0000"/></g><text transform="translate(66.01,66.54) scale(1.03,1)" font-size="24.11" font-family="Liberation Serif" font-weight="bold">(A)</text><text transform="translate(335.62,69.98) scale(1.044,1)" font-size="23.44" font-family="Liberation Serif" font-weight="bold">(B)</text><text transform="translate(632.01,68.78) scale(1.034,1)" font-size="23.89" font-family="Liberation Serif" font-weight="bold">(C)</text><text transform="translate(208.75,92.58) scale(1.057,1)" font-size="20.11" font-family="Liberation Serif">(a)</text><text transform="translate(208.49,176.31) scale(0.971,1)" font-size="20.89" font-family="Liberation Serif">(b)</text><text transform="translate(208.47,284.91) scale(1.016,1)" font-size="20.44" font-family="Liberation Serif">(c)</text><text transform="translate(346.08,111.7) scale(1.024,1)" font-size="20.0" font-family="Liberation Serif">(a)</text><text transform="translate(344.86,252.58) scale(1.018,1)" font-size="20.56" font-family="Liberation Serif">(b)</text><text transform="translate(345.37,414.36)" font-size="20.67" font-family="Liberation Serif">(c)</text><text transform="translate(639.16,124.36)" font-size="20.67" font-family="Liberation Serif">(a)</text><text transform="translate(638.84,261.88) scale(1.045,1)" font-size="20.56" font-family="Liberation Serif">(b)</text><text transform="translate(638.67,407.93) scale(1.017,1)" font-size="20.33" font-family="Liberation Serif">(c)</text><text transform="translate(401.65,48.41) scale(0.963,1)" font-size="19.55" font-family="Liberation Serif">0.7 nm</text><text transform="translate(402.04,187.61) scale(0.965,1)" font-size="19.7" font-family="Liberation Serif">0.7 nm</text><text transform="translate(578.53,45.4) scale(0.951,1)" font-size="19.7" font-family="Liberation Serif">4.7 nm</text><text transform="translate(577.53,196.5) scale(0.943,1)" font-size="19.85" font-family="Liberation Serif">4.5 nm</text><text transform="translate(600.15,334.81) scale(0.965,1)" font-size="19.55" font-family="Liberation Serif">6.4 nm</text><text transform="translate(29.58,481.54)" font-size="22.84" font-family="Liberation Serif">0.0</text><text transform="translate(99.18,481.94)" font-size="22.84" font-family="Liberation Serif">0.3</text><text transform="translate(168.19,481.94)" font-size="22.84" font-family="Liberation Serif">0.6</text><text transform="translate(238.5,481.94) scale(0.984,1)" font-size="22.84" font-family="Liberation Serif">0.9</text><text transform="translate(330.37,481.06) scale(1.06,1)" font-size="21.94" font-family="Liberation Serif">0.5</text><text transform="translate(446.24,481.07) scale(1.057,1)" font-size="21.62" font-family="Liberation Serif">1.0</text><text transform="translate(531.85,483.98) scale(1.022,1)" font-size="22.42" font-family="Liberation Serif">3</text><text transform="translate(570.17,483.76) scale(1.053,1)" font-size="22.09" font-family="Liberation Serif">6</text><text transform="translate(609.04,483.98) scale(0.985,1)" font-size="22.42" font-family="Liberation Serif">9</text><text transform="translate(642.58,484.2)" font-size="22.42" font-family="Liberation Serif">12</text><text transform="translate(33.33,510.92) scale(0.972,1)" font-size="26.56" font-family="Liberation Serif">Relative pressure</text><text transform="translate(218.78,510.9) scale(1.076,1)" font-size="21.44" font-family="Liberation Serif">(</text><text transform="translate(232.5,510.44)" font-size="25.61" font-family="Liberation Serif" font-style="italic">P/P</text><text transform="translate(271.4,520.5)" font-size="15.07" font-family="Liberation Serif" font-style="italic">0</text><text transform="translate(281.5,510.76) scale(1.061,1)" font-size="22.11" font-family="Liberation Serif">)</text><text transform="translate(347.95,509.7) scale(0.961,1)" font-size="26.46" font-family="Liberation Serif" font-style="italic">D</text><text transform="translate(366.73,520.9) scale(0.888,1)" font-size="17.54" font-family="Liberation Serif">HK</text><text transform="translate(388.76,509.06)" font-size="25.89" font-family="Liberation Serif">(nm)</text><text transform="translate(542.55,513.8) scale(0.923,1)" font-size="27.23" font-family="Liberation Serif" font-style="italic">D</text><text transform="translate(560.83,523.93) scale(0.937,1)" font-size="16.82" font-family="Liberation Serif">BJH</text><text transform="translate(594.44,513.46) scale(1.024,1)" font-size="25.89" font-family="Liberation Serif">(nm)</text><text transform="translate(26.63,352.17) rotate(-90)" font-size="27.0" font-family="Liberation Serif">Volume adsorbed (a.u.)</text><text transform="translate(312.95,281.87) rotate(-90)" font-size="26.89" font-family="Liberation Serif">dV/dD (a.u.)</text><text transform="translate(497.33,290.57) rotate(-90)" font-size="27.0" font-family="Liberation Serif">dV/dD (a.u.)</text></svg></body></html>
